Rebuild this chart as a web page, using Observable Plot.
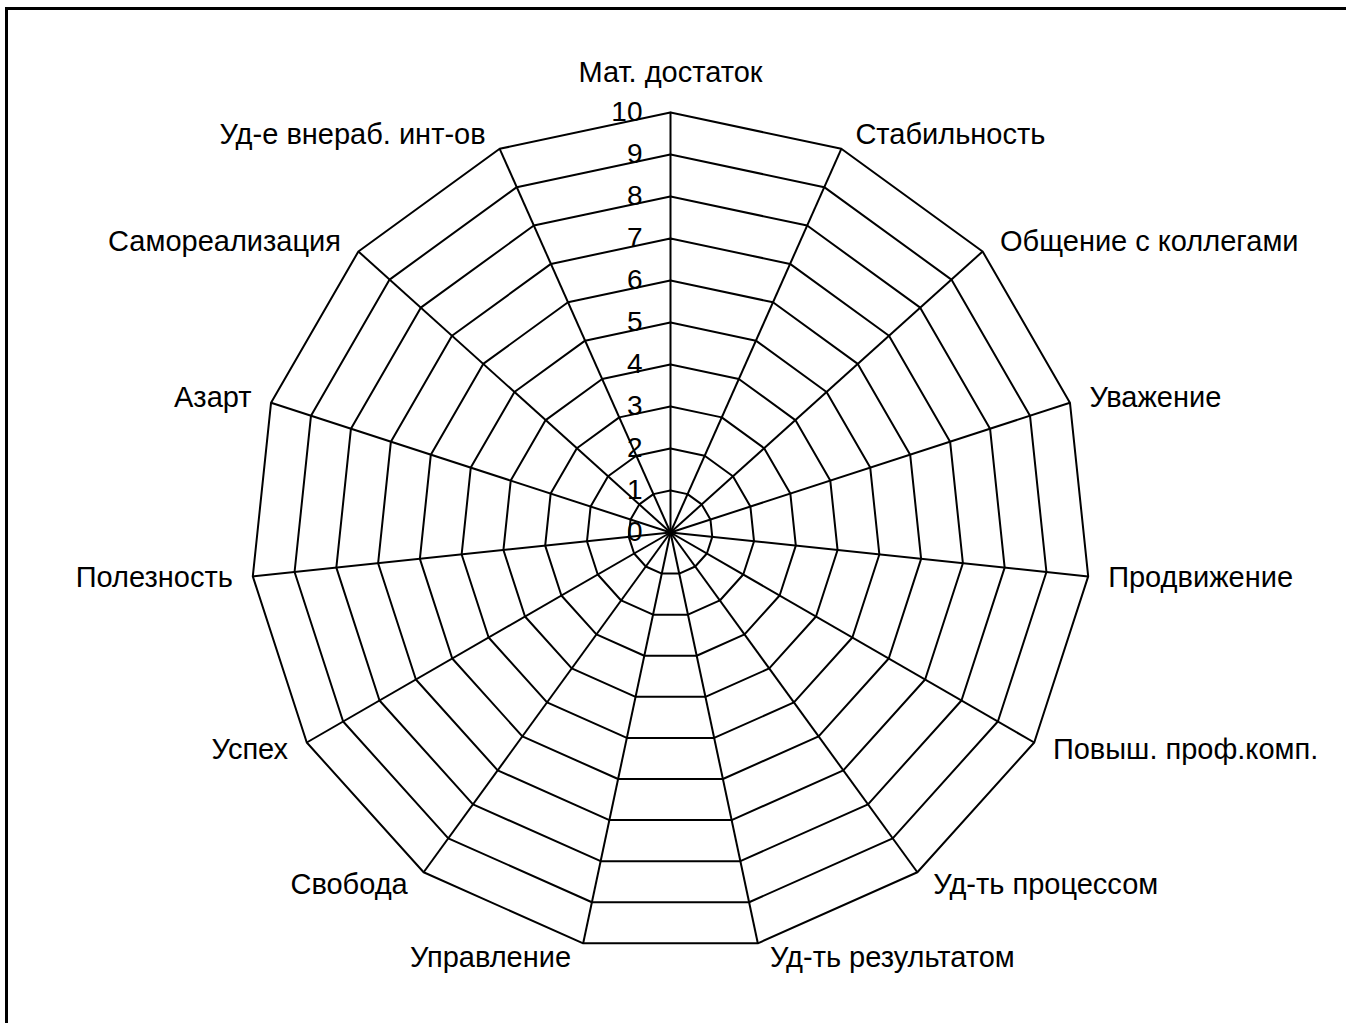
<!DOCTYPE html>
<html><head><meta charset="utf-8">
<script src="https://cdn.jsdelivr.net/npm/d3@7"></script>
<script src="https://cdn.jsdelivr.net/npm/@observablehq/plot@0.6"></script>
<style>
html,body{margin:0;padding:0;background:#fff;overflow:hidden;}
#wrap{position:relative;width:1346px;height:1023px;}
#wrap svg{position:absolute;left:0;top:0;}
#border{position:absolute;left:5px;top:7px;width:1400px;height:1100px;border-top:3px solid #000;border-left:3px solid #000;box-sizing:border-box;pointer-events:none;z-index:2}
</style></head><body><div id="wrap"><div id="border"></div></div>
<script>
const categories = [
  "Мат. достаток", "Стабильность", "Общение с коллегами", "Уважение",
  "Продвижение", "Повыш. проф.комп.", "Уд-ть процессом", "Уд-ть результатом",
  "Управление", "Свобода", "Успех", "Полезность", "Азарт",
  "Самореализация", "Уд-е внераб. инт-ов"
];
const ticks = [0, 1, 2, 3, 4, 5, 6, 7, 8, 9, 10];
const maxValue = 10;

// layout
const W = 1346, H = 1023, cx = 670, cy = 532, R = 420;
const k = R / maxValue;
const n = categories.length;
const angle = i => i * 2 * Math.PI / n;
const px = (v, i) => v * Math.sin(angle(i));
const py = (v, i) => v * Math.cos(angle(i));

const rings = ticks.filter(t => t > 0).flatMap(t =>
  d3.range(n + 1).map(j => ({ring: t, x: px(t, j % n), y: py(t, j % n)})));
const spokes = categories.map((c, i) => ({c, x2: px(maxValue, i), y2: py(maxValue, i)}));

const labels = categories.map((name, i) => {
  const s = Math.sin(angle(i)), c = Math.cos(angle(i));
  let offX, offY;
  if (i === 0) { offX = 0; offY = 40; }
  else { offX = Math.sign(s) * (10 + 10 * Math.abs(s)); offY = 15 * c; }
  return {name, x: px(maxValue, i) + offX / k, y: py(maxValue, i) + offY / k,
          anchor: i === 0 ? "middle" : (s > 0.001 ? "start" : "end")};
});

const chart = Plot.plot({
  width: W, height: H, margin: 0,
  x: {domain: [-cx / k, (W - cx) / k], range: [0, W], axis: null},
  y: {domain: [-(H - cy) / k, cy / k], range: [H, 0], axis: null},
  style: {fontFamily: "'Liberation Sans', Arial, sans-serif", background: "white"},
  marks: [
    Plot.line(rings, {x: "x", y: "y", z: "ring", stroke: "black", strokeWidth: 2, strokeLinejoin: "miter", strokeLinecap: "square"}),
    Plot.link(spokes, {x1: d => 0, y1: d => 0, x2: "x2", y2: "y2", stroke: "black", strokeWidth: 2}),
    Plot.text(ticks, {x: d => 0, y: d => d, text: d => String(d), textAnchor: "end", lineAnchor: "middle", dx: -28, fontSize: 28, fill: "black"}),
    ...["start", "middle", "end"].map(a =>
      Plot.text(labels.filter(d => d.anchor === a), {x: "x", y: "y", text: "name", textAnchor: a, lineAnchor: "middle", fontSize: 29, fill: "black"}))
  ]
});
document.getElementById("wrap").appendChild(chart);
</script>
</body></html>
